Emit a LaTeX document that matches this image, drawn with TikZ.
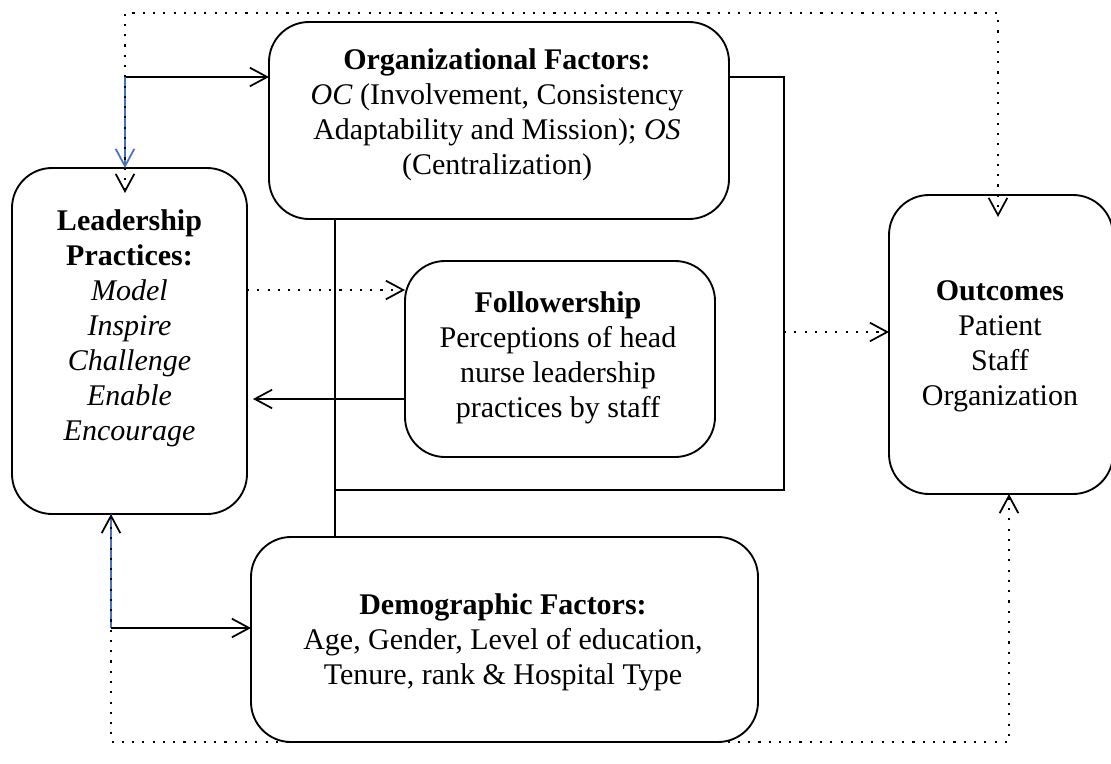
\documentclass[tikz,border=0pt]{standalone}
\usepackage{fontspec}
\setmainfont{Liberation Serif}
\usetikzlibrary{arrows.meta}
\definecolor{linkblue}{RGB}{68,114,196}
\begin{document}
\begin{tikzpicture}[x=0.75pt,y=-0.75pt,
  box/.style={draw, line width=1.4pt, rounded corners=30pt, inner sep=0pt, outer sep=0pt},
  boxtext/.style={align=center, inner sep=0pt, font=\fontsize{22.5}{26.25}\selectfont},
  solidline/.style={line width=1.4pt},
  solidarrow/.style={line width=1.4pt, -{Straight Barb[length=13pt, width=14pt, line width=1.3pt]}},
  dotline/.style={line width=1.9pt, dash pattern=on 1.6pt off 6.1pt},
  bluelink/.style={line width=1.4pt, draw=linkblue}
]
\useasboundingbox (0,0) rectangle (1111,764);

% boxes
\node[box, minimum width=176.25pt, minimum height=259.5pt] (lead) at (129.5,341) {};
\node[box, minimum width=345pt, minimum height=147.75pt] (org) at (499,120.5) {};
\node[box, minimum width=232.5pt, minimum height=147pt] (fol) at (560,359) {};
\node[box, minimum width=380.25pt, minimum height=153.75pt] (dem) at (504.5,639.5) {};
\node[box, minimum width=168pt, minimum height=224.25pt] (out) at (1001,344.5) {};

% box contents
\node[boxtext] (leadtxt) at (129.5,328) {\textbf{Leadership}\\\textbf{Practices:}\\\textit{Model}\\\textit{Inspire}\\\textit{Challenge}\\\textit{Enable}\\\textit{Encourage}};
\node[boxtext] (orgtxt) at (497,114.5) {\textbf{Organizational Factors:}\\\textit{OC} (Involvement, Consistency\\Adaptability and Mission); \textit{OS}\\(Centralization)};
\node[boxtext] (foltxt) at (558,358) {\textbf{Followership}\\Perceptions of head\\nurse leadership\\practices by staff};
\node[boxtext] (outtxt) at (1000,346.5) {\textbf{Outcomes}\\Patient\\Staff\\Organization};
\node[boxtext] (demtxt) at (503,642) {\textbf{Demographic Factors:}\\Age, Gender, Level of education,\\Tenure, rank \& Hospital Type};

% junction points
\coordinate (topsplit) at (125,77);
\coordinate (botsplit) at (111,628);
\coordinate (leadin) at (125,193);
\coordinate (outin) at (998,217);
\coordinate (folout) at (253,399);
\coordinate (frameNE) at (784,77);
\coordinate (frameSE) at (784,490);
\coordinate (frameSW) at (335,490);

% upper feed from the split point
\draw[solidarrow] (topsplit) -- (org.west |- topsplit);
\draw[bluelink, -{Straight Barb[length=13pt, width=14pt, line width=1.3pt]}] (topsplit) -- (lead.north -| topsplit);
% lower feed from the split point
\draw[bluelink] (botsplit) -- (lead.south -| botsplit);
\draw[solidarrow] (botsplit) -- (dem.west |- botsplit);

% frame around the followership box
\draw[solidline] (org.east |- frameNE) -- (frameNE) -- (frameSE) -- (frameSW);
\draw[solidline] (org.south -| frameSW) -- (dem.north -| frameSW);

% followership back to leadership
\draw[solidarrow] (fol.west |- folout) -- (folout);

% dotted links
\draw[dotline, {Straight Barb[length=13pt, width=14pt, line width=1.3pt]}-{Straight Barb[length=13pt, width=14pt, line width=1.3pt]}]
  (leadin) -- (125,13) -- (998,13) -- (outin);
\draw[dotline, {Straight Barb[length=13pt, width=14pt, line width=1.3pt]}-{Straight Barb[length=13pt, width=14pt, line width=1.3pt]}]
  (lead.south -| botsplit) -- (111,742) -- (1009,742) -- (out.south -| 1009,0);
\draw[dotline, -{Straight Barb[length=13pt, width=14pt, line width=1.3pt]}] (lead.east |- 0,290) -- (fol.west |- 0,290);
\draw[dotline, -{Straight Barb[length=13pt, width=14pt, line width=1.3pt]}] (frameNE |- 0,332) -- (out.west |- 0,332);
\end{tikzpicture}
\end{document}
